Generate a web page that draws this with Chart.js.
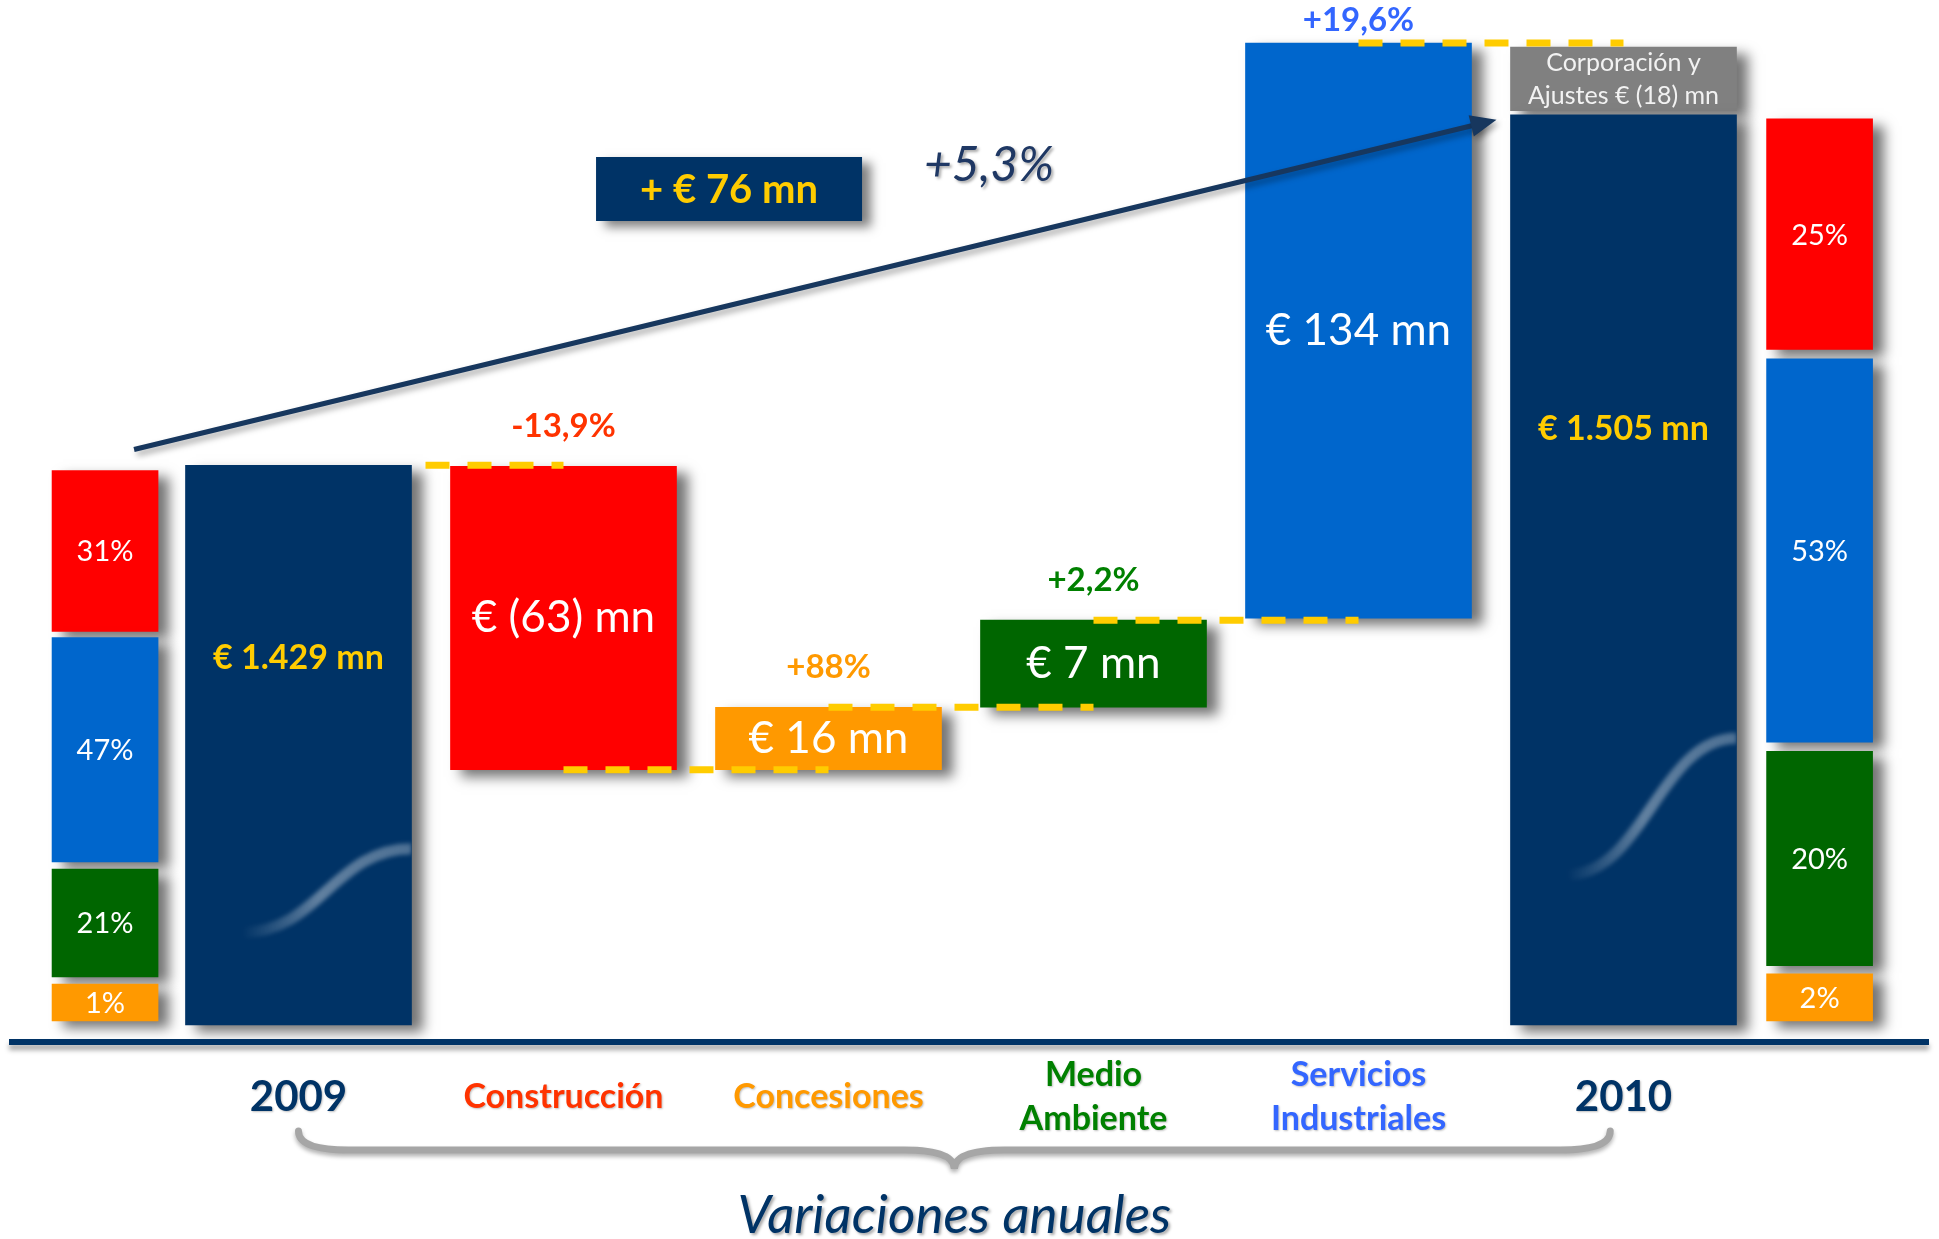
<!DOCTYPE html>
<html>
<head>
<meta charset="utf-8">
<title>Variaciones anuales 2009 - 2010</title>
<script src="https://cdn.jsdelivr.net/npm/chart.js@4.4.0/dist/chart.umd.min.js"></script>
<style>
  html, body { margin: 0; padding: 0; background: #fff; }
  canvas { display: block; }
</style>
</head>
<body>
<canvas id="bridgeChart" width="1939" height="1239"></canvas>
<script>
// € mn, 2009 -> 2010 bridge by business area
const categories = ['2009', 'Construcción', 'Concesiones', ['Medio', 'Ambiente'], ['Servicios', 'Industriales'], '2010'];
const amounts = [1429, -63, 16, 7, 134, 1505];
const variations = ['', '-13,9%', '+88%', '+2,2%', '+19,6%', ''];
// bar extents on the hidden drawing axis (0-100)
const barLow = [0, 24.9, 24.9, 31.0, 39.7, 0];
const barHigh = [54.6, 54.5, 31.0, 39.5, 95.8, 88.8];
const corpAdjust = -18;
const corpRange = [89.2, 95.4];
const totalChange = 76;
const totalGrowth = '+5,3%';

// business mix, bottom to top: Concesiones, Medio Ambiente, Servicios Ind., Construcción
const mix2009 = [1, 21, 47, 31];
const mix2010 = [2, 20, 53, 25];
const mixLow2009 = [0.4, 4.7, 15.9, 38.4];
const mixHigh2009 = [4.0, 15.2, 37.8, 54.1];
const mixLow2010 = [0.4, 5.8, 27.6, 65.9];
const mixHigh2010 = [5.0, 26.7, 65.0, 88.4];

const NAVY = '#003366', RED = '#FF0000', BLUE = '#0066CC', GREEN = '#006600',
      ORANGE = '#FF9900', GREY = '#808080', GOLD = '#FFCC00';
const barColors = [NAVY, RED, ORANGE, GREEN, BLUE, NAVY];
const mixColors = [ORANGE, GREEN, BLUE, RED];
const labelColors = [NAVY, '#FF3300', '#FF9900', '#008000', '#3366FF', NAVY];
const MIX_X = [-0.73, 5.74];

Chart.defaults.font.family = 'Lato';

const fmtMn = v => {
    const s = Math.abs(v).toLocaleString('de-DE');
    return v < 0 ? '€ (' + s + ') mn' : '€ ' + s + ' mn';
};

const barBox = el => {
    const p = el.getProps(['x', 'y', 'base', 'width'], true);
    return { left: p.x - p.width / 2, right: p.x + p.width / 2, top: Math.min(p.y, p.base), bottom: Math.max(p.y, p.base), cx: p.x, w: p.width };
};

const shadowPlugin = {
    id: 'shadow',
    beforeDatasetsDraw(chart) {
        const ctx = chart.ctx;
        ctx.save();
        ctx.shadowColor = 'rgba(0,0,0,0.55)';
        ctx.shadowBlur = 12;
        ctx.shadowOffsetX = 11;
        ctx.shadowOffsetY = 7;
    },
    afterDatasetsDraw(chart) {
        chart.ctx.restore();
    }
};

const decorPlugin = {
    id: 'decor',
    afterDatasetsDraw(chart) {
        const ctx = chart.ctx;
        const main = chart.getDatasetMeta(0).data.map(barBox);
        const corp = barBox(chart.getDatasetMeta(1).data[0]);

        // wave swoosh inside the total bars
        [0, 5].forEach(i => {
            const b = main[i], h = b.bottom - b.top;
            const x0 = b.left + 0.25 * b.w, y0 = b.bottom - 0.165 * h;
            const x1 = b.right, y1 = b.bottom - 0.315 * h;
            const dx = x1 - x0;
            ctx.save();
            ctx.beginPath();
            ctx.rect(b.left, b.top, b.w, h);
            ctx.clip();
            const g = ctx.createLinearGradient(x0, 0, x1, 0);
            g.addColorStop(0, 'rgba(255,255,255,0)');
            g.addColorStop(0.45, 'rgba(255,255,255,0.38)');
            g.addColorStop(1, 'rgba(255,255,255,0.3)');
            ctx.strokeStyle = g;
            ctx.lineWidth = 11;
            ctx.filter = 'blur(2px)';
            ctx.beginPath();
            ctx.moveTo(x0, y0);
            ctx.bezierCurveTo(x0 + 0.45 * dx, y0, x1 - 0.45 * dx, y1, x1, y1);
            ctx.stroke();
            ctx.restore();
        });

        // dashed connectors between steps
        ctx.save();
        ctx.strokeStyle = GOLD;
        ctx.lineWidth = 7;
        ctx.setLineDash([24, 18]);
        for (let i = 0; i < main.length - 1; i++) {
            const lvl = (i > 0 && amounts[i] < 0) ? main[i].bottom : main[i].top;
            const start = i === 0 ? main[i].right + 14 : main[i].cx;
            ctx.beginPath();
            ctx.moveTo(start, lvl);
            ctx.lineTo(main[i + 1].cx, lvl);
            ctx.stroke();
        }
        ctx.restore();

        ctx.save();
        ctx.textAlign = 'center';
        ctx.textBaseline = 'middle';

        // amounts inside bars
        main.forEach((b, i) => {
            const total = i === 0 || i === 5;
            if (total) {
                ctx.font = 'bold 34px Lato';
                ctx.fillStyle = GOLD;
                ctx.fillText(fmtMn(amounts[i]), b.cx, b.top + 0.345 * (b.bottom - b.top));
            } else {
                ctx.font = '44px Lato';
                ctx.fillStyle = '#FFFFFF';
                ctx.fillText(fmtMn(amounts[i]), b.cx, (b.top + b.bottom) / 2);
                ctx.font = 'bold 33px Lato';
                ctx.fillStyle = labelColors[i];
                ctx.fillText(variations[i], b.cx, Math.max(b.top - 40, 20));
            }
        });

        // Corporación y Ajustes
        ctx.font = '25px Lato';
        ctx.fillStyle = '#F2F2F2';
        ctx.fillText('Corporación y', corp.cx, corp.top + 16);
        ctx.fillText('Ajustes ' + fmtMn(corpAdjust), corp.cx, corp.top + 49);

        // business mix percentages
        ctx.font = '29px Lato';
        ctx.fillStyle = '#FFFFFF';
        [mix2009, mix2010].forEach((mix, j) => {
            mix.forEach((pct, k) => {
                const b = barBox(chart.getDatasetMeta(2 + k).data[j]);
                ctx.fillText(pct + '%', b.cx, (b.top + b.bottom) / 2 + 1);
            });
        });
        ctx.restore();

        // growth arrow from the 2009 mix to the 2010 total
        const m0 = barBox(chart.getDatasetMeta(5).data[0]);
        const ax0 = m0.cx + 29, ay0 = m0.top - 21;
        const ax1 = main[5].left - 14, ay1 = main[5].top + 5;
        const ang = Math.atan2(ay1 - ay0, ax1 - ax0);
        ctx.save();
        ctx.shadowColor = 'rgba(0,0,0,0.35)';
        ctx.shadowBlur = 6;
        ctx.shadowOffsetX = 3;
        ctx.shadowOffsetY = 4;
        ctx.strokeStyle = '#17375E';
        ctx.fillStyle = '#17375E';
        ctx.lineWidth = 5;
        ctx.beginPath();
        ctx.moveTo(ax0, ay0);
        ctx.lineTo(ax1 - 18 * Math.cos(ang), ay1 - 18 * Math.sin(ang));
        ctx.stroke();
        ctx.beginPath();
        ctx.moveTo(ax1, ay1);
        ctx.lineTo(ax1 - 26 * Math.cos(ang) + 11 * Math.sin(ang), ay1 - 26 * Math.sin(ang) - 11 * Math.cos(ang));
        ctx.lineTo(ax1 - 26 * Math.cos(ang) - 11 * Math.sin(ang), ay1 - 26 * Math.sin(ang) + 11 * Math.cos(ang));
        ctx.closePath();
        ctx.fill();
        ctx.restore();

        // + € 76 mn box and growth rate
        const W = chart.width;
        const bx = W * 0.3074, by = 157, bw = 266, bh = 64;
        ctx.save();
        ctx.shadowColor = 'rgba(0,0,0,0.5)';
        ctx.shadowBlur = 10;
        ctx.shadowOffsetX = 9;
        ctx.shadowOffsetY = 6;
        ctx.fillStyle = NAVY;
        ctx.fillRect(bx, by, bw, bh);
        ctx.restore();
        ctx.save();
        ctx.textAlign = 'center';
        ctx.textBaseline = 'middle';
        ctx.font = 'bold 40px Lato';
        ctx.fillStyle = GOLD;
        ctx.fillText('+ ' + fmtMn(totalChange), bx + bw / 2, by + bh / 2 + 1);
        ctx.font = 'italic 48px Lato';
        ctx.shadowColor = 'rgba(0,0,0,0.35)';
        ctx.shadowBlur = 3;
        ctx.shadowOffsetX = 2;
        ctx.shadowOffsetY = 2;
        ctx.fillStyle = '#1F3864';
        ctx.fillText(totalGrowth, W * 0.51, 166);
        ctx.restore();
    },
    afterDraw(chart) {
        const ctx = chart.ctx;
        const x = chart.scales.x;
        const area = chart.chartArea;

        // baseline
        const axisY = area.bottom + 17;
        ctx.save();
        ctx.shadowColor = 'rgba(0,0,0,0.35)';
        ctx.shadowBlur = 5;
        ctx.shadowOffsetY = 5;
        ctx.fillStyle = NAVY;
        ctx.fillRect(9, axisY - 3, chart.width - 19, 6);
        ctx.restore();

        // category labels
        ctx.save();
        ctx.textAlign = 'center';
        ctx.textBaseline = 'middle';
        ctx.shadowColor = 'rgba(0,0,0,0.25)';
        ctx.shadowBlur = 2;
        ctx.shadowOffsetX = 1;
        ctx.shadowOffsetY = 1;
        categories.forEach((c, i) => {
            const px = x.getPixelForValue(i);
            ctx.fillStyle = labelColors[i];
            if (Array.isArray(c)) {
                ctx.font = 'bold 34px Lato';
                ctx.fillText(c[0], px, axisY + 33);
                ctx.fillText(c[1], px, axisY + 77);
            } else {
                ctx.font = (i === 0 || i === 5) ? 'bold 42px Lato' : 'bold 34px Lato';
                ctx.fillText(c, px, axisY + 55);
            }
        });
        ctx.restore();

        // brace under the categories
        const xl = x.getPixelForValue(0), xr = x.getPixelForValue(4.95), xm = (xl + xr) / 2;
        const top = axisY + 89, mid = axisY + 108, tip = axisY + 127;
        ctx.save();
        ctx.shadowColor = 'rgba(0,0,0,0.3)';
        ctx.shadowBlur = 4;
        ctx.shadowOffsetY = 3;
        ctx.strokeStyle = '#A6A6A6';
        ctx.lineWidth = 7;
        ctx.lineCap = 'round';
        ctx.beginPath();
        ctx.moveTo(xl, top);
        ctx.quadraticCurveTo(xl, mid, xl + 50, mid);
        ctx.lineTo(xm - 50, mid);
        ctx.quadraticCurveTo(xm, mid, xm, tip);
        ctx.quadraticCurveTo(xm, mid, xm + 50, mid);
        ctx.lineTo(xr - 50, mid);
        ctx.quadraticCurveTo(xr, mid, xr, top);
        ctx.stroke();
        ctx.restore();

        // footer title
        ctx.save();
        ctx.textAlign = 'center';
        ctx.textBaseline = 'middle';
        ctx.font = 'italic 53px Lato';
        ctx.shadowColor = 'rgba(0,0,0,0.35)';
        ctx.shadowBlur = 3;
        ctx.shadowOffsetX = 2;
        ctx.shadowOffsetY = 2;
        ctx.fillStyle = NAVY;
        ctx.fillText('Variaciones anuales', xm, axisY + 174);
        ctx.restore();
    }
};

const datasets = [
    {
        label: 'Variación',
        data: categories.map((c, i) => ({ x: i, y: [barLow[i], barHigh[i]] })),
        backgroundColor: barColors,
        barThickness: 226,
        grouped: false,
        clip: false
    },
    {
        label: 'Corporación y Ajustes',
        data: [{ x: 5, y: corpRange }],
        backgroundColor: GREY,
        barThickness: 226,
        grouped: false,
        clip: false
    }
].concat(mixColors.map((col, k) => ({
    label: 'mix ' + k,
    data: [
        { x: MIX_X[0], y: [mixLow2009[k], mixHigh2009[k]] },
        { x: MIX_X[1], y: [mixLow2010[k], mixHigh2010[k]] }
    ],
    backgroundColor: col,
    barThickness: 106,
    grouped: false,
    clip: false
})));

new Chart(document.getElementById('bridgeChart').getContext('2d'), {
    type: 'bar',
    data: { datasets: datasets },
    options: {
        responsive: false,
        animation: false,
        layout: { padding: { top: 0, bottom: 214, left: 0, right: 0 } },
        plugins: {
            legend: { display: false },
            tooltip: { enabled: false }
        },
        scales: {
            x: { type: 'linear', display: false, offset: false, min: -1.1264, max: 6.1906 },
            y: { display: false, min: 0, max: 100 }
        }
    },
    plugins: [shadowPlugin, decorPlugin]
});
</script>
</body>
</html>
